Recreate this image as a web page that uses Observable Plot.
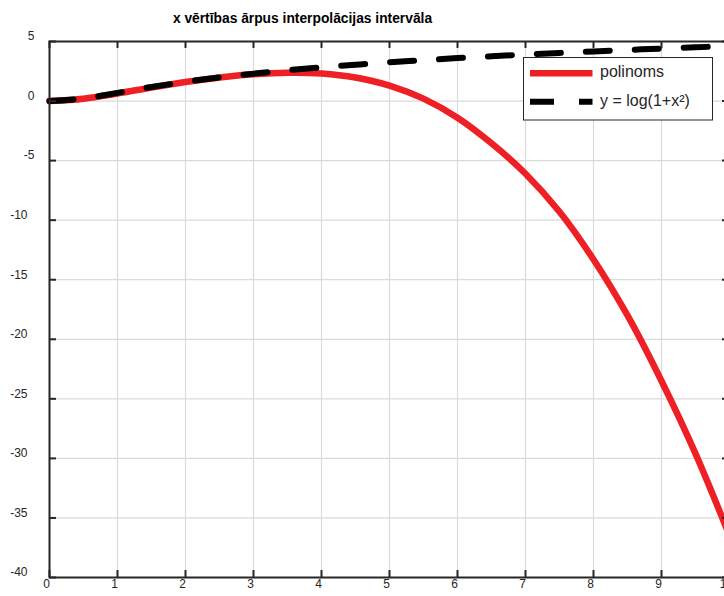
<!DOCTYPE html>
<html>
<head>
<meta charset="utf-8">
<script src="https://cdn.jsdelivr.net/npm/d3@7"></script>
<script src="https://cdn.jsdelivr.net/npm/@observablehq/plot@0.6"></script>
<style>
  html, body { margin: 0; padding: 0; overflow: hidden; background: #fff; }
  #wrap { position: relative; width: 724px; height: 596px; overflow: hidden; font-family: "Liberation Sans", Arial, sans-serif; }
  #wrap > svg { max-width: none !important; width: 745px !important; height: 596px !important; position: absolute; left: 0; top: 0; }
  #title { position: absolute; left: 0; top: 11px; width: 605px; text-align: center; font-weight: bold; font-size: 13.8px; line-height: 16px; color: #000; }
</style>
</head>
<body>
<div id="wrap"></div>
<script>
const titleText = "x vērtības ārpus interpolācijas intervāla";
const seriesNames = ["polinoms", "y = log(1+x²)"];
const xTicks = [0, 1, 2, 3, 4, 5, 6, 7, 8, 9, 10];
const yTicks = [5, 0, -5, -10, -15, -20, -25, -30, -35, -40];

const xs = [0, 0.5, 1, 1.5, 2, 2.5, 3, 3.5, 4, 4.5, 5, 5.5, 6, 6.5, 7, 7.5, 8, 8.5, 9, 9.5, 10];
const polyY = [0, 0.2, 0.64, 1.14, 1.6, 1.98, 2.25, 2.38, 2.32, 1.98, 1.3, 0.2, -1.4, -3.55, -6.1, -9.3, -13.3, -18.0, -23.5, -29.6, -36.5];
const logY = [0, 0.22, 0.69, 1.18, 1.61, 1.98, 2.3, 2.59, 2.83, 3.05, 3.26, 3.43, 3.61, 3.76, 3.91, 4.04, 4.17, 4.29, 4.41, 4.51, 4.62];

const polyData = xs.map((x, i) => ({x, y: polyY[i]}));
const logData = xs.map((x, i) => ({x, y: logY[i]}));

const W = 745, H = 596, ML = 49, MR = 16, MT = 41, MB = 19;
const FW = W - ML - MR, FH = H - MT - MB, TK = 7;
const axisColor = "#262626";
const gridColor = "#dadada";
const red = "#ee1f25";
const fmt = d => String(d);

const shortY = yTicks.filter(d => String(d).length <= 2);
const longY = yTicks.filter(d => String(d).length > 2);

const chart = Plot.plot({
  width: W, height: H,
  marginLeft: ML, marginRight: MR, marginTop: MT, marginBottom: MB,
  x: {domain: [0, 10]},
  y: {domain: [-40, 5]},
  style: {fontFamily: "'Liberation Sans', Arial, sans-serif", fontSize: "12px", color: axisColor, background: "#fff", overflow: "visible"},
  marks: [
    Plot.ruleX(xTicks, {x: d => d, stroke: gridColor, strokeWidth: 1.2}),
    Plot.ruleY(yTicks, {y: d => d, stroke: gridColor, strokeWidth: 1.2}),
    Plot.line(polyData, {x: "x", y: "y", stroke: red, strokeWidth: 6.5, curve: "catmull-rom"}),
    Plot.line(logData, {x: "x", y: "y", stroke: "#000", strokeWidth: 6, strokeDasharray: "24,25", curve: "catmull-rom"}),
    Plot.frame({stroke: axisColor, strokeWidth: 2}),
    Plot.ruleX(xTicks, {x: d => d, insetTop: FH - TK, stroke: axisColor, strokeWidth: 2}),
    Plot.ruleX(xTicks, {x: d => d, insetBottom: FH - TK, stroke: axisColor, strokeWidth: 2}),
    Plot.ruleY(yTicks, {y: d => d, insetRight: FW - TK, stroke: axisColor, strokeWidth: 2}),
    Plot.ruleY(yTicks, {y: d => d, insetLeft: FW - TK, stroke: axisColor, strokeWidth: 2}),
    Plot.axisX(xTicks, {anchor: "bottom", tickSize: 0, tickPadding: 2, dx: -3, fontSize: 12, fill: axisColor, label: null, tickFormat: fmt}),
    Plot.axisY(shortY, {anchor: "left", tickSize: 0, tickPadding: 15, dy: -5, fontSize: 12, fill: axisColor, label: null, tickFormat: fmt}),
    Plot.axisY(longY, {anchor: "left", tickSize: 0, tickPadding: 22, dy: -5, fontSize: 12, fill: axisColor, label: null, tickFormat: fmt})
  ]
});
chart.style.maxWidth = "none";

const wrap = document.getElementById("wrap");
wrap.appendChild(chart);

const title = document.createElement("div");
title.id = "title";
title.textContent = titleText;
wrap.appendChild(title);

// legend
const ns = "http://www.w3.org/2000/svg";
const leg = document.createElementNS(ns, "svg");
leg.setAttribute("width", 724);
leg.setAttribute("height", 130);
leg.style.position = "absolute";
leg.style.left = "0px";
leg.style.top = "0px";
function el(tag, attrs, text) {
  const e = document.createElementNS(ns, tag);
  for (const k in attrs) e.setAttribute(k, attrs[k]);
  if (text) e.textContent = text;
  leg.appendChild(e);
  return e;
}
el("rect", {x: 523.5, y: 57.5, width: 189, height: 62.5, fill: "#fff", stroke: axisColor, "stroke-width": 1});
el("line", {x1: 530, x2: 592.5, y1: 73.3, y2: 73.3, stroke: red, "stroke-width": 6.5});
el("line", {x1: 530, x2: 592.5, y1: 101.7, y2: 101.7, stroke: "#000", "stroke-width": 6, "stroke-dasharray": "24,25"});
const ts = {"font-family": "'Liberation Sans', Arial, sans-serif", "font-size": 16, fill: axisColor};
el("text", {x: 600, y: 77.3, ...ts}, seriesNames[0]);
el("text", {x: 600, y: 106, ...ts}, seriesNames[1]);
wrap.appendChild(leg);
</script>
</body>
</html>
